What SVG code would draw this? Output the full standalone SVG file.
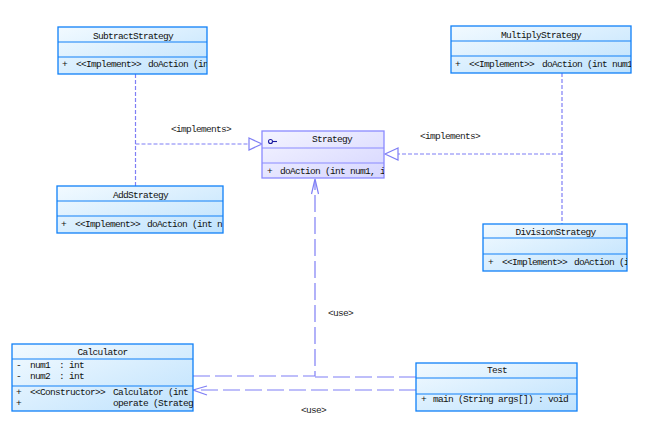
<svg xmlns="http://www.w3.org/2000/svg" width="655" height="430" viewBox="0 0 655 430">
<style>
.t{font-family:"Liberation Mono","DejaVu Sans Mono",monospace;font-size:9.5px;letter-spacing:-0.7px;fill:#111}
.c{text-anchor:middle}
.box{fill:url(#gb);stroke:#1080f8;stroke-width:1.3}
.sep{stroke:#1080f8;stroke-width:1.2}
.ibox{fill:url(#gi);stroke:#8a8aff;stroke-width:1.3}
.isep{stroke:#8a8aff;stroke-width:1.2}
.dash{fill:none;stroke:#7f7ff5;stroke-width:1.2;stroke-dasharray:4 2}
.long{fill:none;stroke:#7f7ff5;stroke-width:1.2;stroke-dasharray:17 5}
.head{fill:#fff;stroke:#7f7ff5;stroke-width:1.2}
.open{fill:none;stroke:#7f7ff5;stroke-width:1.2}
.lbl{font-family:"Liberation Mono","DejaVu Sans Mono",monospace;font-size:9.5px;letter-spacing:-0.7px;fill:#222}
</style>
<defs>
<linearGradient id="gb" x1="0" y1="0" x2="1" y2="1">
<stop offset="0" stop-color="#f2faff"/>
<stop offset="1" stop-color="#bfe2fd"/>
</linearGradient>
<linearGradient id="gi" x1="0" y1="0" x2="1" y2="1">
<stop offset="0" stop-color="#f4f4ff"/>
<stop offset="1" stop-color="#d6d6ff"/>
</linearGradient>
<clipPath id="cSub"><rect x="58" y="27" width="149" height="47"/></clipPath>
<clipPath id="cMul"><rect x="451" y="26" width="180" height="47"/></clipPath>
<clipPath id="cAdd"><rect x="57" y="186" width="166" height="47"/></clipPath>
<clipPath id="cDiv"><rect x="483" y="224" width="144" height="47"/></clipPath>
<clipPath id="cStr"><rect x="262" y="131" width="122" height="47"/></clipPath>
<clipPath id="cCal"><rect x="12" y="344" width="181" height="67"/></clipPath>
</defs>
<rect width="655" height="430" fill="#fff"/>

<g id="connectors">
<path class="dash" d="M135.5,74 V186"/>
<path class="dash" d="M135.5,144 H249"/>
<polygon class="head" points="249,138 262,144 249,150"/>
<path class="dash" d="M562,73 V224"/>
<path class="dash" d="M562,154 H398"/>
<polygon class="head" points="398,148 385,154 398,160"/>
<path class="long" d="M193,376 H315 V180"/>
<path class="long" d="M416,377 H315"/>
<polyline class="open" points="311.5,194 315,179 318.5,194"/>
<path class="long" d="M416,390 H194"/>
<polyline class="open" points="207,386 193,390 207,395"/>
<text class="lbl" x="171" y="132">&lt;implements&gt;</text>
<text class="lbl" x="420" y="139">&lt;implements&gt;</text>
<text class="lbl" x="328" y="316">&lt;use&gt;</text>
<text class="lbl" x="301" y="413">&lt;use&gt;</text>
</g>

<g id="SubtractStrategy">
<rect class="box" x="58" y="27" width="149" height="47"/>
<line class="sep" x1="58" y1="42" x2="207" y2="42"/>
<line class="sep" x1="58" y1="57" x2="207" y2="57"/>
<text class="t c" x="133" y="38.5">SubtractStrategy</text>
<g clip-path="url(#cSub)">
<text class="t" x="62" y="67">+</text>
<text class="t" x="76" y="67">&lt;&lt;Implement&gt;&gt;</text>
<text class="t" x="148" y="67">doAction (in</text>
</g>
</g>

<g id="MultiplyStrategy">
<rect class="box" x="451" y="26" width="180" height="47"/>
<line class="sep" x1="451" y1="41" x2="631" y2="41"/>
<line class="sep" x1="451" y1="56" x2="631" y2="56"/>
<text class="t c" x="541" y="37.5">MultiplyStrategy</text>
<g clip-path="url(#cMul)">
<text class="t" x="455" y="66.5">+</text>
<text class="t" x="469" y="66.5">&lt;&lt;Implement&gt;&gt;</text>
<text class="t" x="542" y="66.5">doAction (int num1</text>
</g>
</g>

<g id="Strategy">
<rect class="ibox" x="262" y="131" width="122" height="47"/>
<line class="isep" x1="262" y1="148" x2="384" y2="148"/>
<line class="isep" x1="262" y1="163" x2="384" y2="163"/>
<circle cx="270.5" cy="141.5" r="2" fill="none" stroke="#1a1aa0" stroke-width="1.1"/>
<line x1="272.5" y1="141.5" x2="277" y2="141.5" stroke="#1a1aa0" stroke-width="1.1"/>
<text class="t" x="312" y="142">Strategy</text>
<g clip-path="url(#cStr)">
<text class="t" x="267" y="174">+</text>
<text class="t" x="280" y="174">doAction (int num1, i</text>
</g>
</g>

<g id="AddStrategy">
<rect class="box" x="57" y="186" width="166" height="47"/>
<line class="sep" x1="57" y1="201" x2="223" y2="201"/>
<line class="sep" x1="57" y1="216" x2="223" y2="216"/>
<text class="t c" x="140.5" y="197.5">AddStrategy</text>
<g clip-path="url(#cAdd)">
<text class="t" x="61" y="226.5">+</text>
<text class="t" x="75" y="226.5">&lt;&lt;Implement&gt;&gt;</text>
<text class="t" x="147" y="226.5">doAction (int n</text>
</g>
</g>

<g id="DivisionStrategy">
<rect class="box" x="483" y="224" width="144" height="47"/>
<line class="sep" x1="483" y1="238" x2="627" y2="238"/>
<line class="sep" x1="483" y1="254" x2="627" y2="254"/>
<text class="t c" x="555.5" y="235">DivisionStrategy</text>
<g clip-path="url(#cDiv)">
<text class="t" x="488" y="264.5">+</text>
<text class="t" x="502" y="264.5">&lt;&lt;Implement&gt;&gt;</text>
<text class="t" x="574" y="264.5">doAction (i</text>
</g>
</g>

<g id="Calculator">
<rect class="box" x="12" y="344" width="181" height="67"/>
<line class="sep" x1="12" y1="359" x2="193" y2="359"/>
<line class="sep" x1="12" y1="386" x2="193" y2="386"/>
<text class="t c" x="102.5" y="355">Calculator</text>
<g clip-path="url(#cCal)">
<text class="t" x="16" y="368">-</text>
<text class="t" x="30" y="368">num1</text>
<text class="t" x="59" y="368">: int</text>
<text class="t" x="16" y="379">-</text>
<text class="t" x="30" y="379">num2</text>
<text class="t" x="59" y="379">: int</text>
<text class="t" x="16" y="395">+</text>
<text class="t" x="30" y="395">&lt;&lt;Constructor&gt;&gt;</text>
<text class="t" x="113" y="395">Calculator (int</text>
<text class="t" x="16" y="405.5">+</text>
<text class="t" x="113" y="405.5">operate (Strateg</text>
</g>
</g>

<g id="Test">
<rect class="box" x="416" y="363" width="161" height="48"/>
<line class="sep" x1="416" y1="378" x2="577" y2="378"/>
<line class="sep" x1="416" y1="394" x2="577" y2="394"/>
<text class="t c" x="497" y="372.5">Test</text>
<text class="t" x="421" y="402">+</text>
<text class="t" x="433" y="402">main (String args[])  : void</text>
</g>
</svg>
